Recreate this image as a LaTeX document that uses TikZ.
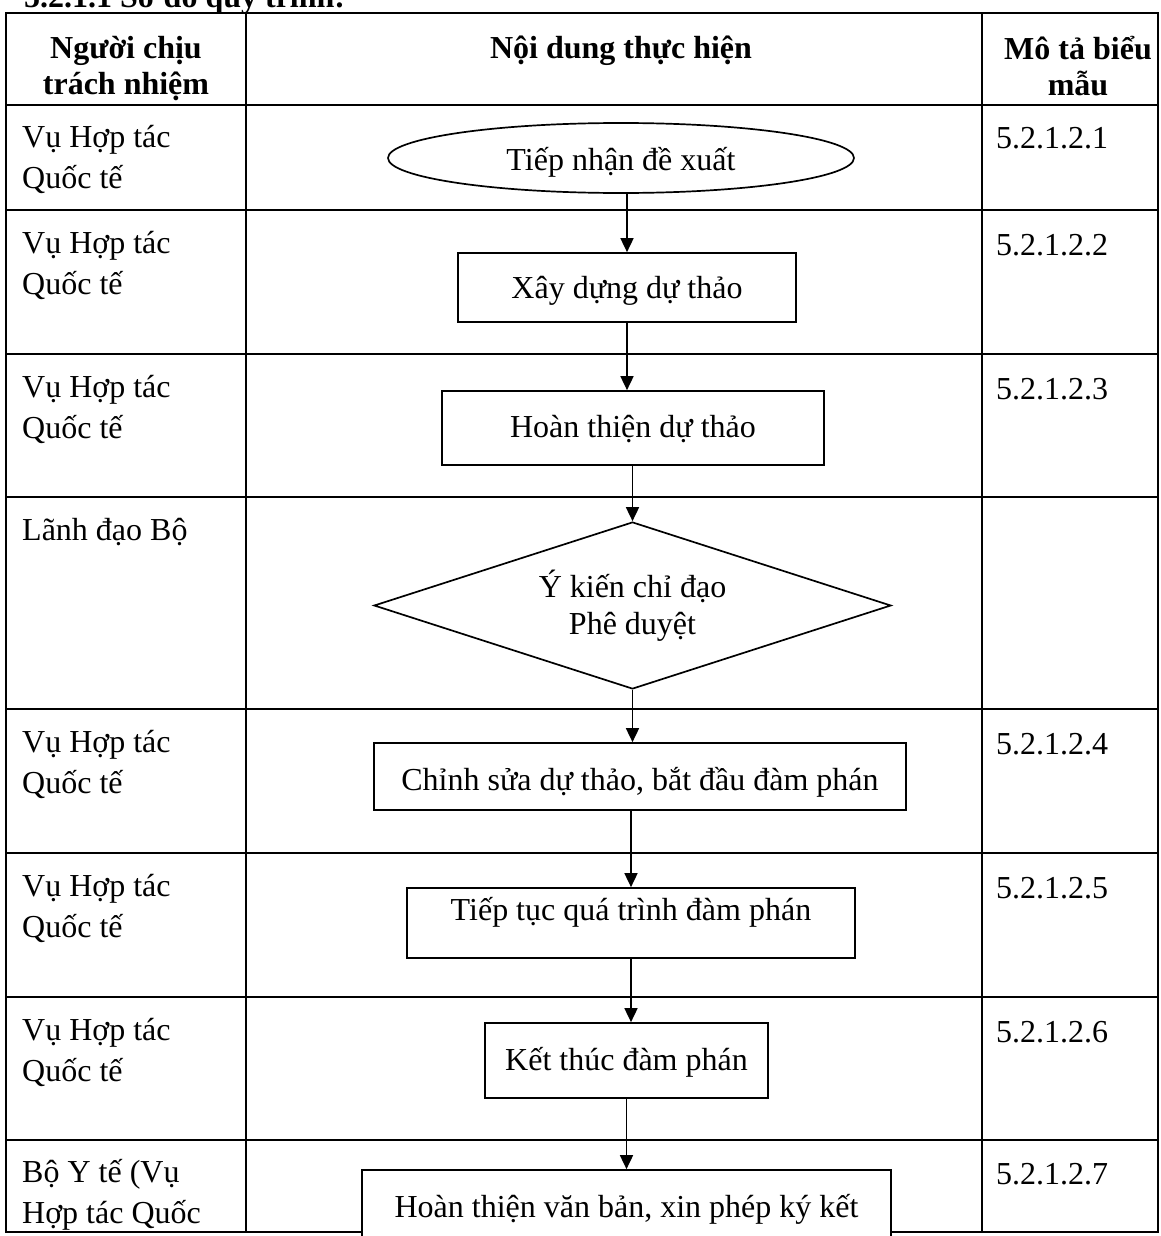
\documentclass[tikz,border=0pt]{standalone}
\usepackage{fontspec}
\setmainfont{Liberation Serif}
\usetikzlibrary{arrows.meta,shapes.geometric}
\begin{document}
\fontsize{32}{41}\selectfont
\begin{tikzpicture}[x=1pt,y=-1pt,
  grid/.style={line width=2.6pt},
  shp/.style={draw, line width=1.7pt, fill=white, inner sep=0pt},
  boxn/.style={shp, rectangle, text height=28pt},
  arr/.style={line width=1.7pt, -{Triangle[length=14pt,width=13pt]}},
  cell/.style={anchor=base west, inner sep=0pt},
  hd/.style={anchor=base, inner sep=0pt, font=\fontsize{32}{36}\selectfont\bfseries}]
\useasboundingbox (0,0) rectangle (1160,1236);
% table
\draw[grid] (6,13) rectangle (1158,1232);
\draw[grid] (246,13) -- (246,1232) (982,13) -- (982,1232);
\foreach \yy in {105,210,354,497,709,853,997,1140}
  \draw[grid] (6,\yy) -- (1158,\yy);
% title and header
\node[hd, anchor=base west] (title) at (24,8) {5.2.1.1 Sơ đồ quy trình:};
\node[hd] (h1) at (126,59) {\begin{tabular}[t]{@{}c@{}}Người chịu\\trách nhiệm\end{tabular}};
\node[hd] (h2) at (621,59) {Nội dung thực hiện};
\node[hd] (h3) at (1078,60) {\begin{tabular}[t]{@{}c@{}}Mô tả biểu\\mẫu\end{tabular}};
% left column
\node[cell] (l1) at (22,147) {\begin{tabular}[t]{@{}l@{}}Vụ Hợp tác\\Quốc tế\end{tabular}};
\node[cell] (l2) at (22,253) {\begin{tabular}[t]{@{}l@{}}Vụ Hợp tác\\Quốc tế\end{tabular}};
\node[cell] (l3) at (22,397) {\begin{tabular}[t]{@{}l@{}}Vụ Hợp tác\\Quốc tế\end{tabular}};
\node[cell] (l4) at (22,540) {Lãnh đạo Bộ};
\node[cell] (l5) at (22,752) {\begin{tabular}[t]{@{}l@{}}Vụ Hợp tác\\Quốc tế\end{tabular}};
\node[cell] (l6) at (22,896) {\begin{tabular}[t]{@{}l@{}}Vụ Hợp tác\\Quốc tế\end{tabular}};
\node[cell] (l7) at (22,1040) {\begin{tabular}[t]{@{}l@{}}Vụ Hợp tác\\Quốc tế\end{tabular}};
\node[cell] (l8) at (22,1182) {\begin{tabular}[t]{@{}l@{}}Bộ Y tế (Vụ\\Hợp tác Quốc\end{tabular}};
% right column
\node[cell] (r1) at (996,149) {5.2.1.2.1};
\node[cell] (r2) at (996,255) {5.2.1.2.2};
\node[cell] (r3) at (996,399) {5.2.1.2.3};
\node[cell] (r5) at (996,754) {5.2.1.2.4};
\node[cell] (r6) at (996,898) {5.2.1.2.5};
\node[cell] (r7) at (996,1042) {5.2.1.2.6};
\node[cell] (r8) at (996,1184) {5.2.1.2.7};
% flow shapes
\node[shp, ellipse, text height=28pt, text depth=4pt, minimum width=466pt, minimum height=70pt] (s1) at (621,158) {Tiếp nhận đề xuất};
\node[boxn, text depth=7pt, minimum width=338pt, minimum height=69pt] (s2) at (627,287.5) {Xây dựng dự thảo};
\node[boxn, text depth=10pt, minimum width=382pt, minimum height=74pt] (s3) at (633,428) {Hoàn thiện dự thảo};
\node[shp, diamond, aspect=3.1, align=center, font=\fontsize{32}{37}\selectfont, minimum width=517pt, minimum height=167pt] (s4) at (632.5,605.5) {Ý kiến chỉ đạo\\Phê duyệt};
\node[boxn, text depth=1pt, minimum width=532pt, minimum height=67pt] (s5) at (640,776.5) {Chỉnh sửa dự thảo, bắt đầu đàm phán};
\node[boxn, text depth=34pt, minimum width=448pt, minimum height=70pt] (s6) at (631,923) {Tiếp tục quá trình đàm phán};
\node[boxn, text depth=9pt, minimum width=283pt, minimum height=75pt] (s7) at (626.5,1060.5) {Kết thúc đàm phán};
\node[boxn, text depth=8pt, minimum width=529pt, minimum height=75pt] (s8) at (626.5,1207.5) {Hoàn thiện văn bản, xin phép ký kết};
% connectors
\draw[arr] (s1.south -| s2.north) -- (s2.north);
\draw[arr] (s2.south) -- (s2.south |- s3.north);
\draw[arr] (s3.south -| s4.north) -- (s4.north);
\draw[arr] (s4.south) -- (s4.south |- s5.north);
\draw[arr] (s5.south -| s6.north) -- (s6.north);
\draw[arr] (s6.south) -- (s6.south |- s7.north);
\draw[arr] (s7.south) -- (s7.south |- s8.north);
\end{tikzpicture}
\end{document}
